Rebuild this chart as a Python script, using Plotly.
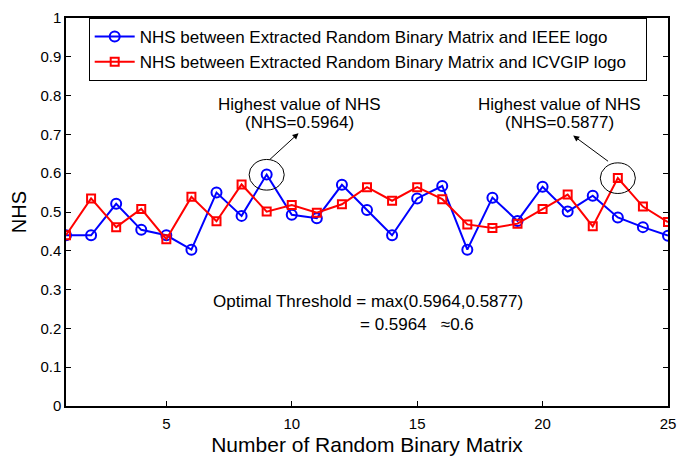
import plotly.graph_objects as go

matrix_no = list(range(1, 26))
nhs_ieee = [0.440, 0.440, 0.521, 0.454, 0.440, 0.403, 0.550, 0.490, 0.5964, 0.493,
            0.484, 0.570, 0.505, 0.440, 0.535, 0.567, 0.403, 0.537, 0.477, 0.565,
            0.501, 0.542, 0.486, 0.461, 0.439]
nhs_icvgip = [0.440, 0.535, 0.461, 0.508, 0.430, 0.539, 0.476, 0.571, 0.501, 0.518,
              0.498, 0.520, 0.564, 0.529, 0.564, 0.533, 0.468, 0.459, 0.470, 0.508,
              0.545, 0.463, 0.5877, 0.514, 0.474]
x_ticks = [5, 10, 15, 20, 25]
y_ticks = [0, 0.1, 0.2, 0.3, 0.4, 0.5, 0.6, 0.7, 0.8, 0.9, 1]
y_tick_text = ["0", "0.1", "0.2", "0.3", "0.4", "0.5", "0.6", "0.7", "0.8", "0.9", "1"]

FONT = "Liberation Sans, Arial, Helvetica, sans-serif"
PAD = "\u00a0" * 3

fig = go.Figure()
fig.add_trace(go.Scatter(
    x=matrix_no, y=nhs_ieee, mode="lines+markers",
    name="NHS between Extracted Random Binary Matrix and IEEE logo" + PAD,
    line=dict(color="#0000ff", width=2),
    marker=dict(symbol="circle-open", size=10, color="#0000ff", line=dict(width=2)),
))
fig.add_trace(go.Scatter(
    x=matrix_no, y=nhs_icvgip, mode="lines+markers",
    name="NHS between Extracted Random Binary Matrix and ICVGIP logo" + PAD,
    line=dict(color="#ff0000", width=2),
    marker=dict(symbol="square-open", size=8, color="#ff0000", line=dict(width=2)),
))

i1 = nhs_ieee.index(max(nhs_ieee))
i2 = nhs_icvgip.index(max(nhs_icvgip))
pk1 = (matrix_no[i1], nhs_ieee[i1])
pk2 = (matrix_no[i2], nhs_icvgip[i2])

for (px, py) in (pk1, pk2):
    fig.add_shape(type="circle", xref="x", yref="y",
                  x0=px - 0.7, x1=px + 0.7, y0=py - 0.04, y1=py + 0.039,
                  line=dict(color="black", width=1))

# arrows
fig.add_annotation(x=10.27, y=0.703, ax=9.07, ay=0.632, xref="x", yref="y",
                   axref="x", ayref="y", text="", showarrow=True,
                   arrowhead=2, arrowsize=1.2, arrowwidth=1, arrowcolor="black")
fig.add_annotation(x=21.22, y=0.697, ax=22.67, ay=0.628, xref="x", yref="y",
                   axref="x", ayref="y", text="", showarrow=True,
                   arrowhead=2, arrowsize=1.2, arrowwidth=1, arrowcolor="black")

ANN = dict(family=FONT, size=17, color="black")
for cx, val in ((10.32, pk1[1]), (20.67, pk2[1])):
    fig.add_annotation(x=cx, y=0.778, xref="x", yref="y", showarrow=False,
                       text="Highest value of NHS", font=ANN)
    fig.add_annotation(x=cx, y=0.730, xref="x", yref="y", showarrow=False,
                       text="(NHS=%.4f)" % val, font=ANN)

fig.add_annotation(x=6.78, y=0.27, xref="x", yref="y", showarrow=False, xanchor="left",
                   text="Optimal Threshold = max(%.4f,%.4f)" % (pk1[1], pk2[1]), font=ANN)
fig.add_annotation(x=12.65, y=0.209, xref="x", yref="y", showarrow=False, xanchor="left",
                   text="= %.4f   \u22480.6" % max(pk1[1], pk2[1]), font=ANN)

fig.update_layout(
    width=685, height=463,
    margin=dict(l=66, r=9, t=9, b=57),
    paper_bgcolor="white", plot_bgcolor="white",
    font=dict(family=FONT, size=15, color="black"),
    showlegend=True,
    legend=dict(x=0.0377, y=1.0, xanchor="left", yanchor="top",
                bordercolor="black", borderwidth=1, bgcolor="white",
                font=dict(family=FONT, size=17), tracegroupgap=0,
                itemwidth=40),
    xaxis=dict(range=[1, 25], tickvals=x_ticks, ticks="inside", ticklen=5,
               tickcolor="black", showline=True, linecolor="black", linewidth=1.5,
               mirror="ticks", showgrid=False, zeroline=False, ticklabelstandoff=3,
               title=dict(text="Number of Random Binary Matrix", font=dict(size=21), standoff=7),
               tickfont=dict(size=15)),
    yaxis=dict(range=[0, 1], tickvals=y_ticks, ticktext=y_tick_text, ticks="inside",
               ticklen=5, tickcolor="black", showline=True, linecolor="black",
               linewidth=1.5, mirror="ticks", showgrid=False, zeroline=False,
               title=dict(text="NHS", font=dict(size=20), standoff=8),
               tickfont=dict(size=15)),
)

fig.write_html("out.html")
